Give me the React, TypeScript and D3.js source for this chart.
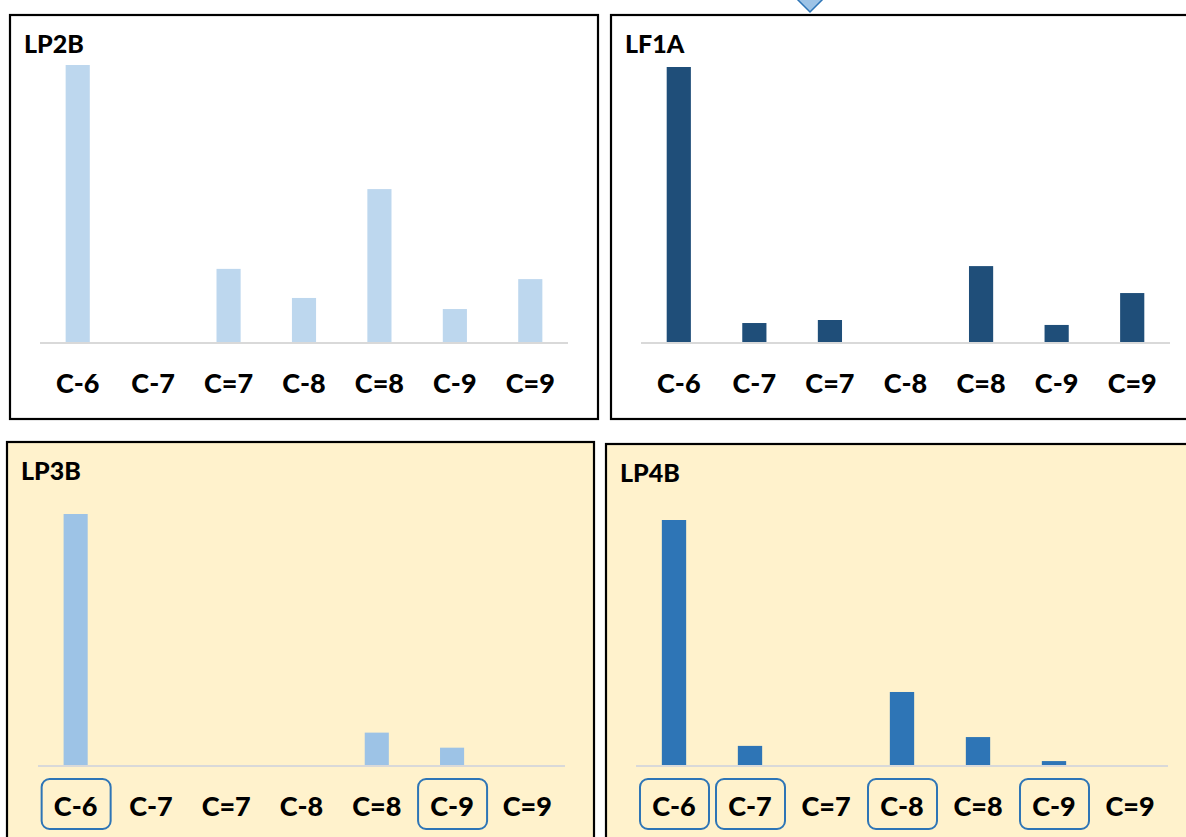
import React from "react";
import * as d3 from "d3";

const categories = ["C-6", "C-7", "C=7", "C-8", "C=8", "C-9", "C=9"];
const lp2bValues = [100, 0, 26.4, 15.9, 55.2, 11.9, 22.7];
const lf1aValues = [100, 6.9, 8.0, 0, 27.6, 6.2, 17.8];
const lp3bValues = [100, 0, 0, 0, 12.9, 6.9, 0];
const lp4bValues = [100, 7.8, 0, 29.8, 11.4, 1.6, 0];
const lp3bBoxed = ["C-6", "C-9"];
const lp4bBoxed = ["C-6", "C-7", "C-8", "C-9"];

type Panel = {
  title: string;
  values: number[];
  color: string;
  boxed: string[];
  x: number; y: number; w: number; h: number;
  fill: string;
  axisX0: number; axisX1: number;
  baseY: number; topY: number;
};

const panels: Panel[] = [
  { title: "LP2B", values: lp2bValues, color: "#BDD7EE", boxed: [], x: 10, y: 15, w: 588, h: 404, fill: "#FFFFFF", axisX0: 40, axisX1: 568, baseY: 342, topY: 65 },
  { title: "LF1A", values: lf1aValues, color: "#1F4E79", boxed: [], x: 611, y: 15, w: 600, h: 404, fill: "#FFFFFF", axisX0: 641, axisX1: 1170, baseY: 342, topY: 67 },
  { title: "LP3B", values: lp3bValues, color: "#9DC3E6", boxed: lp3bBoxed, x: 7, y: 442, w: 587, h: 420, fill: "#FFF2CC", axisX0: 38, axisX1: 565, baseY: 765, topY: 514 },
  { title: "LP4B", values: lp4bValues, color: "#2E75B6", boxed: lp4bBoxed, x: 606, y: 444, w: 600, h: 420, fill: "#FFF2CC", axisX0: 636, axisX1: 1168, baseY: 765, topY: 520 },
];

const FONT = "Lato, 'Open Sans', sans-serif";

function PanelChart({ p }: { p: Panel }) {
  const x = d3.scaleBand<string>().domain(categories).range([p.axisX0, p.axisX1]).paddingInner(0.68).paddingOuter(0.34);
  const y = d3.scaleLinear().domain([0, 100]).range([p.baseY, p.topY]);
  const cx = (c: string) => (x(c) as number) + x.bandwidth() / 2;
  return (
    <g>
      <rect x={p.x} y={p.y} width={p.w} height={p.h} fill={p.fill} stroke="#000" strokeWidth={2.2} />
      <text x={p.x + 14} y={p.y + 38} fontFamily={FONT} fontWeight={900} fontSize={25} fill="#000">{p.title}</text>
      {categories.map((c, i) =>
        p.values[i] > 0 ? (
          <rect key={c} x={x(c)} y={y(p.values[i])} width={x.bandwidth()} height={y(0) - y(p.values[i])} fill={p.color} />
        ) : null
      )}
      <line x1={p.axisX0} x2={p.axisX1} y1={p.baseY + 1} y2={p.baseY + 1} stroke="#D9D9D9" strokeWidth={2} />
      {categories.map((c) =>
        p.boxed.includes(c) ? (
          <rect key={"b" + c} x={cx(c) - 34} y={p.baseY + 14} width={69} height={50} rx={8} ry={8} fill="none" stroke="#2E75B6" strokeWidth={2} />
        ) : null
      )}
      {categories.map((c) => (
        <text key={"t" + c} x={cx(c)} y={p.baseY + 51} textAnchor="middle" fontFamily={FONT} fontWeight={900} fontSize={27} fill="#000">{c}</text>
      ))}
    </g>
  );
}

export default function App() {
  return (
    <svg width={1186} height={837} style={{ position: "absolute", left: 0, top: 0, background: "#fff" }}>
      <rect x={0} y={0} width={1186} height={837} fill="#fff" />
      {panels.map((p) => <PanelChart key={p.title} p={p} />)}
      <path d="M 797 -1 L 810 12 L 823 -1 L 810 -14 Z" fill="#9DC3E6" stroke="#2E75B6" strokeWidth={1.5} />
    </svg>
  );
}
